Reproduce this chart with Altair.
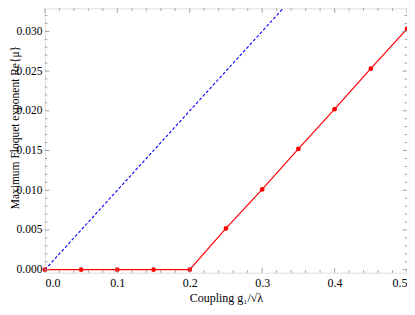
import altair as alt
import pandas as pd

# data
g_vals = [0.0, 0.05, 0.10, 0.15, 0.20, 0.25, 0.30, 0.35, 0.40, 0.45, 0.50]
mu_vals = [0.0, 0.0, 0.0, 0.0, 0.0, 0.0052, 0.0101, 0.0152, 0.0202, 0.0253, 0.0303]
blue_x = [0.0, 0.5]
blue_y = [0.0, 0.05]

x_major = [0.0, 0.1, 0.2, 0.3, 0.4, 0.5]
x_minor = [0.02, 0.04, 0.06, 0.08, 0.12, 0.14, 0.16, 0.18, 0.22, 0.24, 0.26, 0.28,
           0.32, 0.34, 0.36, 0.38, 0.42, 0.44, 0.46, 0.48]
y_major = [0.0, 0.005, 0.010, 0.015, 0.020, 0.025, 0.030]
y_minor = [0.001, 0.002, 0.003, 0.004, 0.006, 0.007, 0.008, 0.009, 0.011, 0.012,
           0.013, 0.014, 0.016, 0.017, 0.018, 0.019, 0.021, 0.022, 0.023, 0.024,
           0.026, 0.027, 0.028, 0.029, 0.031, 0.032]

W, H = 363, 265
FONT = "Liberation Serif"
FRAME = "#8a8a8a"

xs = alt.Scale(domain=[0, 0.5], nice=False, zero=False)
ys = alt.Scale(domain=[-0.00038, 0.03289], nice=False, zero=False)

red_df = pd.DataFrame({"g": g_vals, "mu": mu_vals})
blue_df = pd.DataFrame({"g": blue_x, "mu": blue_y})

xaxis = alt.Axis(values=x_major, format=".1f", ticks=False, domain=False, grid=False,
                 labelFont=FONT, labelFontSize=12, labelColor="black", labelPadding=5,
                 title="Coupling  g₁/√λ", titleFont=FONT, titleFontSize=12,
                 titleFontWeight="normal", titleColor="black",
                 titleY=29, titleBaseline="alphabetic")
yaxis = alt.Axis(values=y_major, format=".3f", ticks=False, domain=False, grid=False,
                 labelFont=FONT, labelFontSize=11.5, labelColor="black", labelPadding=3,
                 title="Maximum Floquet exponent  Re{μ}", titleFont=FONT, titleFontSize=11.5,
                 titleFontWeight="normal", titleColor="black",
                 titleX=-26.5, titleY=119, titleAngle=-90, titleAlign="center",
                 titleBaseline="alphabetic")

blue = alt.Chart(blue_df).mark_line(color="#0000ff", strokeDash=[3, 2], strokeWidth=1.1,
                                    clip=True).encode(
    x=alt.X("g:Q", scale=xs, axis=xaxis),
    y=alt.Y("mu:Q", scale=ys, axis=yaxis),
)
red_line = alt.Chart(red_df).mark_line(color="#ff0000", strokeWidth=1.2).encode(
    x=alt.X("g:Q", scale=xs), y=alt.Y("mu:Q", scale=ys))
red_pts = alt.Chart(red_df).mark_circle(color="#ff0000", size=22, opacity=1).encode(
    x=alt.X("g:Q", scale=xs), y=alt.Y("mu:Q", scale=ys))

def xticks(vals, length):
    df = pd.DataFrame({"t": vals})
    bottom = alt.Chart(df).mark_rule(color=FRAME, strokeWidth=0.8).encode(
        x=alt.X("t:Q", scale=xs), y=alt.value(H), y2=alt.value(H - length))
    top = alt.Chart(df).mark_rule(color=FRAME, strokeWidth=0.8).encode(
        x=alt.X("t:Q", scale=xs), y=alt.value(0), y2=alt.value(length))
    return [bottom, top]

def yticks(vals, length):
    df = pd.DataFrame({"t": vals})
    left = alt.Chart(df).mark_rule(color=FRAME, strokeWidth=0.8).encode(
        y=alt.Y("t:Q", scale=ys), x=alt.value(0), x2=alt.value(length))
    right = alt.Chart(df).mark_rule(color=FRAME, strokeWidth=0.8).encode(
        y=alt.Y("t:Q", scale=ys), x=alt.value(W), x2=alt.value(W - length))
    return [left, right]

tick_layers = xticks(x_major, 4.5) + xticks(x_minor, 2.5) + yticks(y_major, 4.5) + yticks(y_minor, 2.5)

chart = alt.layer(blue, red_line, red_pts, *tick_layers).properties(
    width=W, height=H,
    padding={"left": 37, "top": 0, "right": 0, "bottom": 40},
    autosize=alt.AutoSizeParams(type="none"),
).configure_view(stroke=FRAME, strokeWidth=1).configure(background="white")

chart.save("out.html", embed_options={"renderer": "svg", "actions": False})
